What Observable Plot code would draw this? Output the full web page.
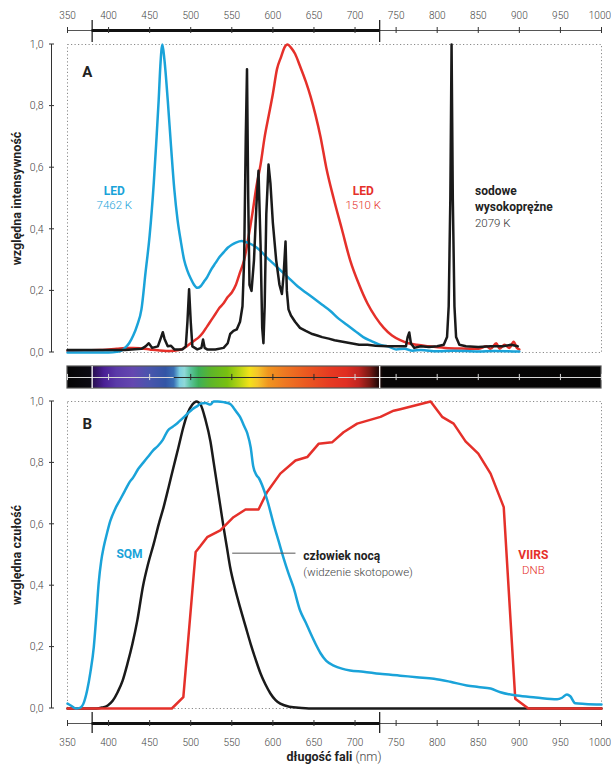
<!DOCTYPE html>
<html><head><meta charset="utf-8">
<script src="https://cdn.jsdelivr.net/npm/d3@7"></script>
<script src="https://cdn.jsdelivr.net/npm/@observablehq/plot@0.6"></script>
<style>
body{margin:0;background:#fff;}
#chart{position:relative;width:611px;height:767px;font-family:Roboto,sans-serif;overflow:hidden;}
#chart svg{position:absolute;left:0;overflow:visible;}
#xtitle{position:absolute;left:67px;width:534px;top:749px;text-align:center;font:12.5px Roboto,sans-serif;color:#222;}
#xtitle b{font-weight:700;}
#xtitle span{font-weight:300;color:#444;}
</style></head><body><div id="chart"><div id="xtitle"><b>długość fali</b><span> (nm)</span></div></div>
<script>
// ---------- DATA ----------
const xTicks = [350,400,450,500,550,600,650,700,750,800,850,900,950,1000];
const yTicks = [0,0.2,0.4,0.6,0.8,1.0];
const xExtent = [350,1000];
const visibleRange = [380,730];

// Panel A: relative intensity spectra
const ledCool = [[350,0],[380,0],[400,0],[410,0.002],[415,0.005],[420,0.015],[425,0.03],[430,0.055],[435,0.09],[440,0.14],[445,0.26],[450,0.38],[455,0.55],[458,0.68],[461,0.82],[463,0.93],[465.5,1.0],[468,0.95],[472,0.82],[476,0.67],[480,0.53],[484,0.43],[488,0.36],[492,0.3],[496,0.265],[500,0.24],[504,0.22],[508,0.21],[512,0.215],[516,0.23],[520,0.245],[525,0.27],[530,0.29],[535,0.31],[540,0.325],[545,0.34],[550,0.35],[555,0.357],[562,0.362],[570,0.356],[578,0.345],[585,0.33],[592,0.31],[600,0.29],[610,0.265],[620,0.24],[630,0.215],[640,0.195],[650,0.175],[660,0.155],[670,0.135],[680,0.11],[690,0.09],[700,0.07],[710,0.05],[720,0.037],[730,0.025],[740,0.02],[750,0.01],[760,0.012],[770,0.006],[780,0.008],[800,0.004],[820,0.006],[850,0.003],[870,0.005],[900,0.003]];
const ledWarm = [[350,0.005],[370,0.007],[390,0.008],[400,0.01],[410,0.012],[420,0.015],[430,0.015],[440,0.013],[450,0.01],[460,0.007],[470,0.005],[480,0.006],[490,0.012],[495,0.02],[500,0.03],[505,0.04],[510,0.05],[515,0.065],[520,0.085],[525,0.105],[530,0.125],[535,0.145],[540,0.16],[545,0.18],[550,0.195],[555,0.22],[560,0.26],[565,0.3],[570,0.37],[575,0.45],[580,0.54],[585,0.61],[590,0.7],[595,0.77],[600,0.84],[605,0.92],[610,0.96],[614,0.99],[618,1.0],[622,0.99],[627,0.97],[633,0.93],[640,0.88],[646,0.83],[652,0.77],[658,0.7],[665,0.6],[674,0.5],[684,0.4],[694,0.3],[705,0.22],[715,0.16],[725,0.115],[735,0.08],[745,0.055],[755,0.04],[765,0.03],[775,0.025],[790,0.02],[810,0.015],[830,0.013],[850,0.012],[860,0.02],[865,0.012],[872,0.03],[876,0.012],[882,0.025],[888,0.015],[893,0.035],[897,0.015],[900,0.01]];
const sodiumHPS = [[350,0.008],[380,0.008],[420,0.008],[440,0.012],[445,0.02],[449,0.03],[453,0.015],[460,0.02],[464,0.05],[466,0.066],[468,0.045],[472,0.02],[476,0.022],[480,0.01],[490,0.01],[494,0.02],[496,0.1],[498,0.205],[500,0.1],[502,0.02],[508,0.01],[513,0.015],[515,0.042],[517,0.015],[520,0.01],[530,0.01],[540,0.015],[545,0.03],[548,0.06],[552,0.07],[556,0.075],[560,0.1],[563,0.15],[565,0.3],[567,0.7],[568.5,0.92],[570,0.5],[571.5,0.22],[574,0.2],[577,0.3],[580,0.48],[582.5,0.59],[585,0.35],[587,0.08],[588.5,0.03],[590,0.15],[592,0.45],[594.7,0.61],[597,0.55],[600,0.42],[604,0.3],[608,0.22],[611,0.19],[613,0.25],[615.4,0.36],[617,0.2],[619,0.14],[622,0.12],[627,0.1],[633,0.08],[640,0.07],[648,0.06],[654,0.055],[660,0.05],[668,0.045],[675,0.04],[685,0.035],[695,0.03],[705,0.025],[715,0.025],[725,0.022],[740,0.02],[755,0.02],[762,0.02],[764,0.05],[766,0.065],[768,0.03],[772,0.015],[780,0.02],[790,0.018],[800,0.02],[808,0.025],[812,0.05],[814,0.15],[816,0.5],[817.5,1.0],[819,0.5],[821,0.15],[823,0.05],[827,0.025],[835,0.02],[850,0.018],[865,0.02],[880,0.02],[890,0.025],[898,0.02]];

// Panel B: relative sensitivity
const sqm = [[350,0.016],[355,0.008],[360,0.0],[365,0.002],[370,0.02],[374,0.06],[378,0.12],[382,0.2],[385,0.3],[388,0.41],[391,0.48],[394,0.525],[398,0.57],[402,0.61],[408,0.65],[414,0.68],[420,0.71],[425,0.735],[430,0.753],[436,0.78],[442,0.8],[448,0.82],[454,0.84],[460,0.855],[466,0.875],[472,0.905],[478,0.918],[484,0.93],[490,0.945],[496,0.96],[502,0.975],[508,0.985],[512,0.993],[518,0.995],[524,0.99],[528,1.0],[533,1.0],[540,0.998],[545,0.995],[549,0.99],[552,0.98],[556,0.965],[560,0.95],[565,0.92],[569,0.895],[573,0.85],[576,0.79],[580,0.76],[583,0.75],[588,0.72],[593,0.68],[601,0.6],[607,0.545],[613,0.49],[619,0.44],[625,0.395],[633,0.32],[640,0.28],[646,0.244],[652,0.21],[658,0.18],[665,0.155],[674,0.14],[684,0.13],[694,0.124],[710,0.12],[730,0.113],[755,0.107],[775,0.102],[796,0.097],[816,0.087],[836,0.075],[850,0.07],[865,0.065],[877,0.053],[897,0.042],[920,0.036],[946,0.03],[952,0.035],[958,0.046],[962,0.04],[968,0.017],[980,0.015],[1000,0.013]];
const scotopic = [[350,0],[385,0],[392,0.003],[399,0.01],[405,0.025],[411,0.053],[417,0.09],[423,0.146],[429,0.21],[435,0.287],[442,0.4],[448,0.47],[455,0.537],[461,0.6],[467,0.656],[473,0.72],[479,0.786],[485,0.85],[491,0.916],[496,0.96],[502,0.99],[507,1.0],[512,0.99],[518,0.94],[524,0.87],[528,0.8],[532,0.73],[536,0.66],[540,0.59],[544,0.525],[548,0.46],[554,0.39],[560,0.33],[567,0.265],[573,0.21],[579,0.16],[585,0.114],[591,0.078],[597,0.049],[603,0.028],[609,0.016],[620,0.006],[635,0.002],[650,0],[800,0],[1000,0]];
const viirsDNB = [[350,0],[477,0],[491,0.037],[506,0.51],[512,0.53],[520,0.558],[536,0.58],[552,0.623],[566.7,0.648],[582.5,0.648],[593,0.705],[609,0.765],[627.5,0.808],[641.8,0.819],[655.6,0.862],[672,0.867],[686,0.9],[702.6,0.928],[731,0.95],[747,0.97],[755,0.975],[792,1.0],[806,0.95],[820,0.928],[834.5,0.87],[850,0.83],[865,0.765],[881,0.656],[895,0.032],[911,0],[1000,0]];

// Visible spectrum colour stops (nm, colour)
const spectrumStops = [[350,"#050505"],[378,"#0b0a12"],[382,"#2a0f55"],[395,"#4a1f95"],[410,"#5a3aa8"],[430,"#6447b0"],[450,"#4a55ad"],[470,"#3355a5"],[480,"#3a70b5"],[487,"#7ccfe0"],[493,"#8fd8d8"],[500,"#5cc4a0"],[510,"#3cb05a"],[525,"#5db52a"],[545,"#78c010"],[560,"#b8d414"],[572,"#f2e21a"],[582,"#f5c52a"],[595,"#f0951f"],[615,"#ee7822"],[640,"#eb5a20"],[670,"#e63a22"],[690,"#e02e22"],[705,"#c02520"],[718,"#7a1a15"],[728,"#2a0a08"],[735,"#080606"],[1000,"#050505"]];
const spectrumAxisLight = [[350,480],[680,1000]];
const spectrumAxisDark = [[480,680]];

// ---------- STYLE ----------
const BLUE = "#1aa3d9", RED = "#e5302a", BLACK = "#1a1a1a";
const W = 611, ML = 67, MR = 10;
const FONT = "Roboto, sans-serif";
const toObj = a => a.map(([nm, v]) => ({nm, v}));
const fmt = d => d.toFixed(1).replace(".", ",");
const chart = document.getElementById("chart");

function place(svg, top) { svg.style.top = top + "px"; chart.appendChild(svg); }

function yAxisLine(index, scales, values, dims) {
  const x = dims.marginLeft - 15.5;
  const g = d3.create("svg:g").attr("stroke", "#333").attr("stroke-width", 1);
  g.append("line").attr("x1", x).attr("x2", x).attr("y1", scales.y(0)).attr("y2", scales.y(1));
  for (const t of yTicks) g.append("line").attr("x1", x - 2.5).attr("x2", x + 2.5).attr("y1", scales.y(t)).attr("y2", scales.y(t));
  return g.node();
}

function axisStrip(height, lineY, labelY, markY1, markY2) {
  const last = xTicks[xTicks.length - 1];
  return Plot.plot({
    width: W, height, marginLeft: ML, marginRight: MR, marginTop: 0, marginBottom: 0,
    style: {fontFamily: FONT, background: "none", overflow: "visible"},
    x: {domain: xExtent, axis: null},
    y: {domain: [0, height], range: [0, height], axis: null},
    marks: [
      Plot.ruleY([lineY], {x1: xExtent[0], x2: xExtent[1], stroke: "#555", strokeWidth: 1}),
      Plot.ruleY([lineY], {x1: visibleRange[0], x2: visibleRange[1], stroke: "#111", strokeWidth: 3}),
      Plot.ruleX(xTicks, {y1: lineY - 3, y2: lineY + 3, stroke: "#333"}),
      Plot.ruleX(visibleRange, {y1: markY1, y2: markY2, stroke: "#111", strokeWidth: 1.2}),
      Plot.text(xTicks.filter(t => t !== last), {x: d => d, y: labelY, text: d => String(d), fontSize: 10, fontWeight: 300, fill: "#444"}),
      Plot.text([last], {x: d => d, y: labelY, text: d => String(d), textAnchor: "end", dx: 9.5, fontSize: 10, fontWeight: 300, fill: "#444"})
    ]
  });
}

function panel(height, yTitle, marks) {
  return Plot.plot({
    width: W, height, marginLeft: ML, marginRight: MR, marginTop: 10, marginBottom: 10,
    style: {fontFamily: FONT, background: "none", overflow: "visible"},
    x: {domain: xExtent, axis: null},
    y: {domain: [0, 1]},
    marks: [
      Plot.frame({stroke: "#8a8a8a", strokeDasharray: "1.2,2.3"}),
      yAxisLine,
      Plot.axisY({ticks: yTicks, tickSize: 0, tickPadding: 24, tickFormat: fmt, fontSize: 10.5, fontWeight: 300, fill: "#444", label: null}),
      Plot.text([yTitle], {frameAnchor: "left", textAnchor: "middle", dx: -51, rotate: -90, fontSize: 12.5, fontWeight: 700, fill: "#222"}),
      ...marks
    ]
  });
}

// top axis
place(axisStrip(44, 30, 15, 20, 42), 0);

// Panel A
const lineOpts = {x: "nm", y: "v", strokeWidth: 2.5, strokeLinejoin: "round"};
place(panel(328, "względna intensywność", [
  Plot.line(toObj(ledWarm), {...lineOpts, stroke: RED, curve: "monotone-x"}),
  Plot.line(toObj(ledCool), {...lineOpts, stroke: BLUE, curve: "monotone-x"}),
  Plot.line(toObj(sodiumHPS), {...lineOpts, stroke: BLACK}),
  Plot.text(["A"], {x: 374, y: 0.909, fontSize: 15, fontWeight: 700, fill: "#222"}),
  Plot.text(["LED"], {x: 407, y: 0.524, fontSize: 12, fontWeight: 700, fill: BLUE}),
  Plot.text(["7462 K"], {x: 407, y: 0.477, fontSize: 11.5, fontWeight: 300, fill: BLUE}),
  Plot.text(["LED"], {x: 710, y: 0.524, fontSize: 12, fontWeight: 700, fill: RED}),
  Plot.text(["1510 K"], {x: 710, y: 0.477, fontSize: 11.5, fontWeight: 300, fill: RED}),
  Plot.text(["sodowe", "wysokoprężne"], {x: 846, y: [0.523, 0.471], textAnchor: "start", fontSize: 12, fontWeight: 700, fill: "#222"}),
  Plot.text(["2079 K"], {x: 846, y: 0.421, textAnchor: "start", fontSize: 11.5, fontWeight: 300, fill: "#333"})
]), 34);

// spectrum strip
function spectrumMark(index, scales, values, dims) {
  const g = d3.create("svg:g");
  const x0 = scales.x(xExtent[0]), x1 = scales.x(xExtent[1]);
  const grad = g.append("defs").append("linearGradient").attr("id", "specgrad")
    .attr("gradientUnits", "userSpaceOnUse").attr("x1", x0).attr("x2", x1).attr("y1", 0).attr("y2", 0);
  for (const [nm, c] of spectrumStops)
    grad.append("stop").attr("offset", (scales.x(nm) - x0) / (x1 - x0)).attr("stop-color", c);
  g.append("rect").attr("x", x0).attr("width", x1 - x0).attr("y", scales.y(1)).attr("height", scales.y(0) - scales.y(1))
    .attr("fill", "url(#specgrad)").attr("stroke", "#555").attr("stroke-width", 1.2);
  return g.node();
}
const inDark = t => t > spectrumAxisDark[0][0] && t < spectrumAxisDark[0][1];
place(Plot.plot({
  width: W, height: 34, marginLeft: ML, marginRight: MR, marginTop: 6, marginBottom: 6,
  style: {background: "none", overflow: "visible"},
  x: {domain: xExtent, axis: null},
  y: {domain: [0, 1], axis: null},
  marks: [
    spectrumMark,
    Plot.ruleY(spectrumAxisLight, {y: 0.5, x1: d => d[0], x2: d => d[1], stroke: "#d8d8d8", strokeWidth: 1.2}),
    Plot.ruleY(spectrumAxisDark, {y: 0.5, x1: d => d[0], x2: d => d[1], stroke: "#2a2a2a", strokeWidth: 1.2}),
    Plot.ruleX(xTicks.filter(t => !inDark(t)), {y1: 0.36, y2: 0.64, stroke: "#d8d8d8"}),
    Plot.ruleX(xTicks.filter(inDark), {y1: 0.36, y2: 0.64, stroke: "#2a2a2a"}),
    Plot.ruleX(visibleRange, {y1: 0, y2: 1, stroke: "#fff", strokeWidth: 1.3})
  ]
}), 360);

// Panel B
place(panel(327, "względna czułość", [
  Plot.line(toObj(scotopic), {...lineOpts, stroke: BLACK, curve: "monotone-x"}),
  Plot.line(toObj(viirsDNB), {...lineOpts, stroke: RED}),
  Plot.line(toObj(sqm), {...lineOpts, stroke: BLUE, curve: "monotone-x"}),
  Plot.text(["B"], {x: 374, y: 0.925, fontSize: 15, fontWeight: 700, fill: "#222"}),
  Plot.text(["SQM"], {x: 425.5, y: 0.502, fontSize: 12, fontWeight: 700, fill: BLUE}),
  Plot.link([0], {x1: 550.5, x2: 627.5, y1: 0.506, y2: 0.506, stroke: "#555", strokeWidth: 1}),
  Plot.text(["człowiek nocą"], {x: 637, y: 0.496, textAnchor: "start", fontSize: 12, fontWeight: 700, fill: "#222"}),
  Plot.text(["(widzenie skotopowe)"], {x: 637, y: 0.444, textAnchor: "start", fontSize: 11.5, fontWeight: 300, fill: "#444"}),
  Plot.text(["VIIRS"], {x: 917, y: 0.498, fontSize: 12, fontWeight: 700, fill: RED}),
  Plot.text(["DNB"], {x: 917, y: 0.45, fontSize: 11.5, fontWeight: 300, fill: RED})
]), 391);

// bottom axis
place(axisStrip(59, 15, 34, 4, 25), 708);
</script></body></html>
